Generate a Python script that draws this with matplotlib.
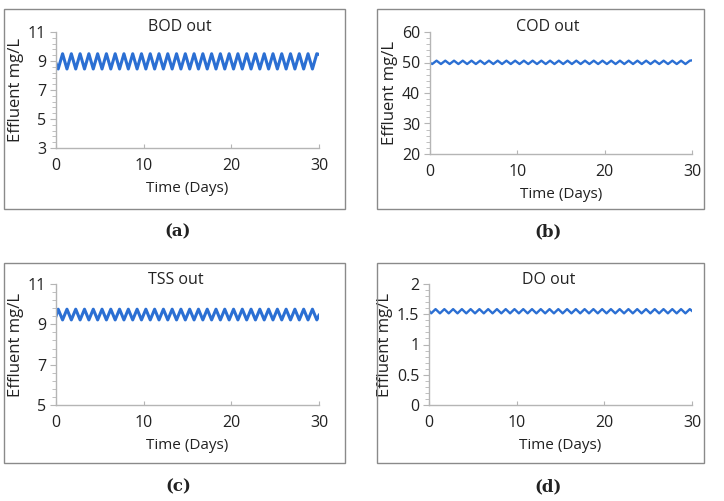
import numpy as np
import matplotlib
matplotlib.use("Agg")
import matplotlib.pyplot as plt
from matplotlib.patches import Rectangle
from matplotlib.ticker import AutoMinorLocator

plt.rcParams['font.family'] = ['Open Sans', 'DejaVu Sans']

# sample times (days): start, half-day extremes, end
time_days = [0.0] + [0.25 + 0.5 * i for i in range(60)] + [30.0]

bod_out = [8.85,
           8.45, 9.50, 8.45, 9.50, 8.45, 9.50, 8.45, 9.50, 8.45, 9.50,
           8.45, 9.50, 8.45, 9.50, 8.45, 9.50, 8.45, 9.50, 8.45, 9.50,
           8.45, 9.50, 8.45, 9.50, 8.45, 9.50, 8.45, 9.50, 8.45, 9.50,
           8.45, 9.50, 8.45, 9.50, 8.45, 9.50, 8.45, 9.50, 8.45, 9.50,
           8.45, 9.50, 8.45, 9.50, 8.45, 9.50, 8.45, 9.50, 8.45, 9.50,
           8.45, 9.50, 8.45, 9.50, 8.45, 9.50, 8.45, 9.50, 8.45, 9.50,
           9.45]
cod_out = [49.9,
           49.5, 50.6, 49.5, 50.6, 49.5, 50.6, 49.5, 50.6, 49.5, 50.6,
           49.5, 50.6, 49.5, 50.6, 49.5, 50.6, 49.5, 50.6, 49.5, 50.6,
           49.5, 50.6, 49.5, 50.6, 49.5, 50.6, 49.5, 50.6, 49.5, 50.6,
           49.5, 50.6, 49.5, 50.6, 49.5, 50.6, 49.5, 50.6, 49.5, 50.6,
           49.5, 50.6, 49.5, 50.6, 49.5, 50.6, 49.5, 50.6, 49.5, 50.6,
           49.5, 50.6, 49.5, 50.6, 49.5, 50.6, 49.5, 50.6, 49.5, 50.6,
           50.7]
tss_out = [9.40,
           9.75, 9.22, 9.75, 9.22, 9.75, 9.22, 9.75, 9.22, 9.75, 9.22,
           9.75, 9.22, 9.75, 9.22, 9.75, 9.22, 9.75, 9.22, 9.75, 9.22,
           9.75, 9.22, 9.75, 9.22, 9.75, 9.22, 9.75, 9.22, 9.75, 9.22,
           9.75, 9.22, 9.75, 9.22, 9.75, 9.22, 9.75, 9.22, 9.75, 9.22,
           9.75, 9.22, 9.75, 9.22, 9.75, 9.22, 9.75, 9.22, 9.75, 9.22,
           9.75, 9.22, 9.75, 9.22, 9.75, 9.22, 9.75, 9.22, 9.75, 9.22,
           9.45]
do_out = [1.56,
          1.515, 1.585, 1.515, 1.585, 1.515, 1.585, 1.515, 1.585, 1.515, 1.585,
          1.515, 1.585, 1.515, 1.585, 1.515, 1.585, 1.515, 1.585, 1.515, 1.585,
          1.515, 1.585, 1.515, 1.585, 1.515, 1.585, 1.515, 1.585, 1.515, 1.585,
          1.515, 1.585, 1.515, 1.585, 1.515, 1.585, 1.515, 1.585, 1.515, 1.585,
          1.515, 1.585, 1.515, 1.585, 1.515, 1.585, 1.515, 1.585, 1.515, 1.585,
          1.515, 1.585, 1.515, 1.585, 1.515, 1.585, 1.515, 1.585, 1.515, 1.585,
          1.555]

titles = ["BOD out", "COD out", "TSS out", "DO out"]
panel_labels = ["(a)", "(b)", "(c)", "(d)"]
yticks_list = [[3, 5, 7, 9, 11], [20, 30, 40, 50, 60], [5, 7, 9, 11], [0, 0.5, 1, 1.5, 2]]
ytick_labels = [["3", "5", "7", "9", "11"], ["20", "30", "40", "50", "60"],
                ["5", "7", "9", "11"], ["0", "0.5", "1", "1.5", "2"]]
xticks = [0, 10, 20, 30]
series = [bod_out, cod_out, tss_out, do_out]

W, H = 724, 501
fig = plt.figure(figsize=(W / 100, H / 100), dpi=100)

# layout in pixels: axes (left, right, top, bottom), box (l, r, t, b), label centre, title centre
axes_px = [(56, 319, 32, 148), (430, 692, 32, 154), (56, 319, 284, 405), (429, 692, 284, 405)]
box_px = [(4, 345, 9, 209), (377, 704, 9, 209), (4, 345, 263, 463), (377, 704, 263, 463)]
label_px = [(178, 232), (548, 232), (178, 487), (548, 487)]
title_px = [(180, 27), (548, 27), (176, 280), (549, 280)]
lws = [2.2, 1.7, 2.2, 1.7]
line_color = '#2b6fd3'
axis_color = '#b5b5b5'
text_color = '#222222'

for i in range(4):
    l, r, t, b = axes_px[i]
    ax = fig.add_axes([l / W, 1 - b / H, (r - l) / W, (b - t) / H])
    ax.plot(time_days, series[i], color=line_color, lw=lws[i], solid_joinstyle='round')
    ax.set_xlim(0, 30)
    ax.set_ylim(yticks_list[i][0], yticks_list[i][-1])
    ax.set_xticks(xticks)
    ax.set_xticklabels([str(v) for v in xticks])
    ax.set_yticks(yticks_list[i])
    ax.set_yticklabels(ytick_labels[i])
    ax.yaxis.set_minor_locator(AutoMinorLocator(5))
    for s in ['top', 'right']:
        ax.spines[s].set_visible(False)
    for s in ['left', 'bottom']:
        ax.spines[s].set_color(axis_color)
        ax.spines[s].set_linewidth(1.0)
    ax.tick_params(axis='y', which='major', direction='out', length=4, color=axis_color,
                   labelsize=11.5, labelcolor=text_color, pad=3)
    ax.tick_params(axis='y', which='minor', direction='out', length=3, color=axis_color)
    ax.tick_params(axis='x', which='major', direction='in', length=3, color=axis_color,
                   labelsize=11.5, labelcolor=text_color, pad=7)
    ax.set_xlabel("Time (Days)", fontsize=11, color=text_color, labelpad=5)
    ax.set_ylabel("Effluent mg/L", fontsize=12, color=text_color, labelpad=3)
    ax.patch.set_alpha(0)
    tx, ty = title_px[i]
    fig.text(tx / W, 1 - ty / H, titles[i], ha='center', va='center', fontsize=11.5, color=text_color)
    bl, br, bt, bb = box_px[i]
    fig.patches.append(Rectangle((bl / W, 1 - bb / H), (br - bl) / W, (bb - bt) / H,
                                 transform=fig.transFigure, fill=False,
                                 edgecolor='#8a8a8a', linewidth=1.0))
    lx, ly = label_px[i]
    fig.text(lx / W, 1 - ly / H, panel_labels[i], ha='center', va='center', fontsize=12,
             fontweight='bold', family='DejaVu Serif', color=text_color)

fig.savefig("out.png", dpi=100)
